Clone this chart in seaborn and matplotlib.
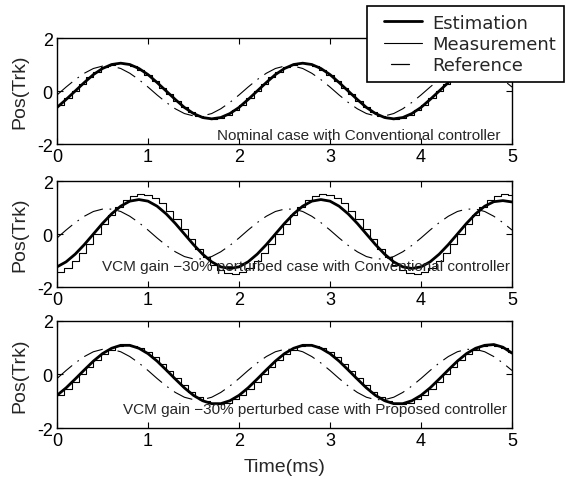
import numpy as np
import matplotlib
matplotlib.use('Agg')
import matplotlib.pyplot as plt
from matplotlib.lines import Line2D
from matplotlib.legend_handler import HandlerLine2D, HandlerBase
import seaborn as sns

# ---------------- data ----------------
t_est = np.linspace(0, 5, 51)            # 0.1 ms grid
t_meas = np.arange(64) * 0.08            # 0.08 ms sample grid (zero-order hold)

reference = [-0.15, 0.15, 0.43, 0.67, 0.85, 0.94, 0.94, 0.85, 0.67, 0.43,
             0.15, -0.15, -0.43, -0.67, -0.85, -0.94, -0.94, -0.85, -0.67, -0.43,
             -0.15, 0.15, 0.43, 0.67, 0.85, 0.94, 0.94, 0.85, 0.67, 0.43,
             0.15, -0.15, -0.43, -0.67, -0.85, -0.94, -0.94, -0.85, -0.67, -0.43,
             -0.15, 0.15, 0.43, 0.67, 0.85, 0.94, 0.94, 0.85, 0.67, 0.43, 0.15]

est_nominal = [-0.62, -0.32, 0.00, 0.32, 0.62, 0.85, 1.00, 1.05, 1.00, 0.85,
               0.62, 0.32, 0.00, -0.32, -0.62, -0.85, -1.00, -1.05, -1.00, -0.85,
               -0.62, -0.32, 0.00, 0.32, 0.62, 0.85, 1.00, 1.05, 1.00, 0.85,
               0.62, 0.32, 0.00, -0.32, -0.62, -0.85, -1.00, -1.05, -1.00, -0.85,
               -0.62, -0.32, 0.00, 0.32, 0.62, 0.85, 1.00, 1.05, 1.00, 0.85, 0.62]

est_conv = [-1.24, -1.05, -0.76, -0.40, 0.00, 0.40, 0.76, 1.05, 1.24, 1.30,
            1.24, 1.05, 0.76, 0.40, 0.00, -0.40, -0.76, -1.05, -1.24, -1.30,
            -1.24, -1.05, -0.76, -0.40, 0.00, 0.40, 0.76, 1.05, 1.24, 1.30,
            1.24, 1.05, 0.76, 0.40, 0.00, -0.40, -0.76, -1.05, -1.24, -1.30,
            -1.24, -1.05, -0.76, -0.40, 0.00, 0.40, 0.76, 1.05, 1.22, 1.26, 1.21]

est_prop = [-0.78, -0.50, -0.17, 0.17, 0.50, 0.78, 0.98, 1.09, 1.09, 0.98,
            0.78, 0.50, 0.17, -0.17, -0.50, -0.78, -0.98, -1.09, -1.09, -0.98,
            -0.78, -0.50, -0.17, 0.17, 0.50, 0.78, 0.98, 1.09, 1.09, 0.98,
            0.78, 0.50, 0.17, -0.17, -0.50, -0.78, -0.98, -1.09, -1.09, -0.98,
            -0.78, -0.50, -0.17, 0.17, 0.50, 0.78, 0.98, 1.09, 1.12, 1.02, 0.80]

meas_nominal = [-0.51, -0.26, 0.00, 0.26, 0.51, 0.72, 0.89, 1.00, 1.05, 1.03,
                0.95, 0.81, 0.62, 0.39, 0.13, -0.13, -0.39, -0.62, -0.81, -0.95,
                -1.03, -1.05, -1.00, -0.89, -0.72,
                -0.51, -0.26, 0.00, 0.26, 0.51, 0.72, 0.89, 1.00, 1.05, 1.03,
                0.95, 0.81, 0.62, 0.39, 0.13, -0.13, -0.39, -0.62, -0.81, -0.95,
                -1.03, -1.05, -1.00, -0.89, -0.72,
                -0.51, -0.26, 0.00, 0.26, 0.51, 0.72, 0.89, 1.00, 1.05, 1.03,
                0.95, 0.81, 0.62, 0.39]

meas_conv = [-1.43, -1.27, -1.03, -0.72, -0.37, 0.00, 0.37, 0.72, 1.03, 1.27,
             1.43, 1.50, 1.47, 1.36, 1.16, 0.88, 0.55, 0.19, -0.19, -0.55,
             -0.88, -1.16, -1.36, -1.47, -1.50,
             -1.43, -1.27, -1.03, -0.72, -0.37, 0.00, 0.37, 0.72, 1.03, 1.27,
             1.43, 1.50, 1.47, 1.36, 1.16, 0.88, 0.55, 0.19, -0.19, -0.55,
             -0.88, -1.16, -1.36, -1.47, -1.50,
             -1.43, -1.27, -1.03, -0.72, -0.37, 0.00, 0.37, 0.72, 1.03, 1.27,
             1.43, 1.50, 1.47, 1.36]

meas_prop = [-0.75, -0.53, -0.27, 0.00, 0.27, 0.53, 0.75, 0.93, 1.05, 1.10,
             1.08, 1.00, 0.85, 0.65, 0.40, 0.14, -0.14, -0.40, -0.65, -0.85,
             -1.00, -1.08, -1.10, -1.05, -0.93,
             -0.75, -0.53, -0.27, 0.00, 0.27, 0.53, 0.75, 0.93, 1.05, 1.10,
             1.08, 1.00, 0.85, 0.65, 0.40, 0.14, -0.14, -0.40, -0.65, -0.85,
             -1.00, -1.08, -1.10, -1.05, -0.93,
             -0.75, -0.53, -0.27, 0.00, 0.27, 0.53, 0.75, 0.93, 1.05, 1.10,
             1.08, 1.00, 0.85, 0.65]

captions = ["Nominal case with Conventional controller",
            "VCM gain \u221230% perturbed case with Conventional controller",
            "VCM gain \u221230% perturbed case with Proposed controller"]
series_names = ["Estimation", "Measurement", "Reference"]
x_ticks = [0, 1, 2, 3, 4, 5]
y_ticks = [-2, 0, 2]

# ---------------- style ----------------
sns.set_style("ticks")
plt.rcParams['font.family'] = ['Liberation Sans', 'DejaVu Sans']
plt.rcParams['axes.unicode_minus'] = False

REF_DASH = (0, (18, 6, 1.5, 6))

fig = plt.figure(figsize=(5.66, 4.81), dpi=100)
rects = [(0.1007, 0.6985, 0.8039, 0.2204),
         (0.1007, 0.4012, 0.8039, 0.2204),
         (0.1007, 0.1081, 0.8039, 0.2225)]
panels = [(est_nominal, meas_nominal), (est_conv, meas_conv), (est_prop, meas_prop)]
cap_y = [0.045, 0.16, 0.14]
cap_x = [0.975, 0.996, 0.99]

axes = []
for i, (rect, (est, meas)) in enumerate(zip(rects, panels)):
    ax = fig.add_axes(rect)
    axes.append(ax)
    sns.lineplot(x=t_meas, y=meas, ax=ax, color='black', linewidth=0.8,
                 drawstyle='steps-post', estimator=None, sort=False, legend=False)
    sns.lineplot(x=t_est, y=reference, ax=ax, color='black', linewidth=0.8,
                 linestyle=REF_DASH, estimator=None, sort=False, legend=False)
    sns.lineplot(x=t_est, y=est, ax=ax, color='black', linewidth=2.0,
                 estimator=None, sort=False, legend=False)
    ax.set_xlim(0, 5)
    ax.set_ylim(-2, 2)
    ax.set_xticks(x_ticks)
    ax.set_yticks(y_ticks)
    ax.tick_params(direction='in', top=True, right=True, length=4, width=0.8,
                   labelsize=13, pad=3, colors='black')
    for s in ax.spines.values():
        s.set_linewidth(1.0)
        s.set_color('black')
        s.set_visible(True)
    ax.set_ylabel("Pos(Trk)", fontsize=14)
    ax.yaxis.set_label_coords(-0.062, 0.5)
    ax.set_xlabel("")
    ax.text(cap_x[i], cap_y[i], captions[i], transform=ax.transAxes,
            ha='right', va='baseline', fontsize=11)

axes[2].set_xlabel("Time(ms)", fontsize=14, labelpad=6)


class CenteredDash(HandlerBase):
    """Legend key showing the first (long) dash of the dash-dot reference line."""
    def create_artists(self, legend, orig_handle, xdescent, ydescent,
                       width, height, fontsize, trans):
        x0 = -xdescent + 0.36 * width
        x1 = -xdescent + 0.74 * width
        y = height / 2.0 - ydescent
        ln = Line2D([x0, x1], [y, y], color='black', linewidth=0.9, transform=trans)
        return [ln]


h_est = Line2D([], [], color='black', linewidth=2.0)
h_meas = Line2D([], [], color='black', linewidth=0.8)
h_ref = Line2D([], [], color='black', linewidth=0.8, linestyle=REF_DASH)
leg = fig.legend([h_est, h_meas, h_ref], series_names, loc='upper left',
                 bbox_to_anchor=(367 / 566, 1 - 7 / 481),
                 prop={'family': 'DejaVu Sans', 'size': 13},
                 frameon=True, fancybox=False, framealpha=1, edgecolor='black',
                 handlelength=2.6, handletextpad=0.6, labelspacing=0.18,
                 borderpad=0.42, borderaxespad=0,
                 handler_map={h_est: HandlerLine2D(xpad=0.5),
                              h_meas: HandlerLine2D(xpad=0.5),
                              h_ref: CenteredDash()})
leg.get_frame().set_linewidth(1.2)

fig.savefig("out.png", dpi=100)
